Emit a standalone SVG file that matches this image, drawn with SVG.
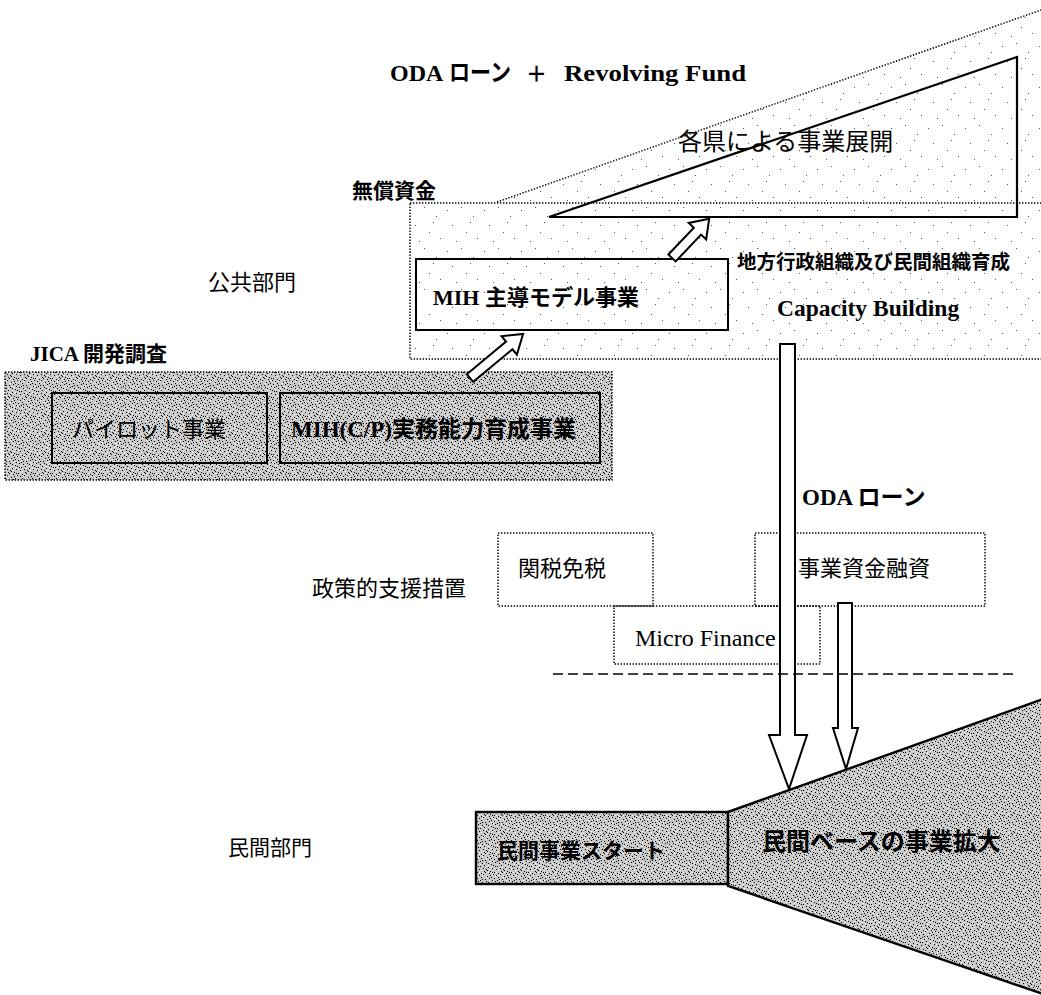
<svg xmlns="http://www.w3.org/2000/svg" width="1041" height="995" viewBox="0 0 1041 995">
<style>
  .t { font-family: 'Liberation Serif', 'Noto Sans CJK JP', serif; fill: #000; }
  .g { font-family: 'Noto Sans CJK JP', 'Liberation Sans', sans-serif; fill: #000; }
  .b { font-weight: bold; }
  .dotted { fill: none; stroke: #000; stroke-width: 1.4; stroke-dasharray: 1.4 1.6; }
  .solid { fill: none; stroke: #000; stroke-width: 2; }
  .arrow { fill: #fff; stroke: #000; stroke-width: 2; stroke-linejoin: miter; }
  .dashed { fill: none; stroke: #000; stroke-width: 1.6; stroke-dasharray: 10 5; }
</style>
<defs>
  <pattern id="light" width="37" height="41" patternUnits="userSpaceOnUse">
    <path d="M3 5h1v1h-1z M17 2h1v1h-1z M29 11h1v1h-1z M8 20h1v1h-1z M22 27h1v1h-1z M33 33h1v1h-1z M12 36h1v1h-1z M26 17h1v1h-1z" fill="#555"/>
  </pattern>
  <pattern id="dense" width="17" height="19" patternUnits="userSpaceOnUse">
    <rect width="17" height="19" fill="#c8c8c8"/>
    <path fill="#000" d="M0 0h1v1h-1z M3 1h1v1h-1z M7 0h1v1h-1z M11 2h1v1h-1z M14 1h1v1h-1z M1 4h1v1h-1z M5 3h1v1h-1z M9 5h1v1h-1z M13 4h1v1h-1z M16 6h1v1h-1z M2 7h1v1h-1z M6 8h1v1h-1z M10 7h1v1h-1z M15 9h1v1h-1z M0 10h1v1h-1z M4 11h1v1h-1z M8 10h1v1h-1z M12 12h1v1h-1z M16 13h1v1h-1z M3 14h1v1h-1z M7 13h1v1h-1z M11 15h1v1h-1z M14 16h1v1h-1z M1 17h1v1h-1z M5 18h1v1h-1z M9 17h1v1h-1z M13 18h1v1h-1z M6 5h1v1h-1z M10 14h1v1h-1z M2 11h1v1h-1z M15 3h1v1h-1z M8 16h1v1h-1z M12 8h1v1h-1z M4 6h1v1h-1z M16 17h1v1h-1z"/>
    <path fill="#fff" d="M2 2h1v1h-1z M6 1h1v1h-1z M10 3h1v1h-1z M13 6h1v1h-1z M0 6h1v1h-1z M4 9h1v1h-1z M8 8h1v1h-1z M12 10h1v1h-1z M15 12h1v1h-1z M1 13h1v1h-1z M5 15h1v1h-1z M9 12h1v1h-1z M13 14h1v1h-1z M3 17h1v1h-1z M7 18h1v1h-1z M11 17h1v1h-1z M16 0h1v1h-1z M14 8h1v1h-1z"/>
  </pattern>
</defs>

<!-- Public sector area -->
<g id="public-area">
  <polygon points="497,202 1041,10 1041,202" fill="url(#light)"/>
  <rect x="410" y="203" width="640" height="156" fill="url(#light)"/>
  <line x1="497" y1="202" x2="1041" y2="10" class="dotted"/>
  <rect x="410" y="203" width="640" height="156" class="dotted"/>
</g>

<g id="prefecture-triangle">
  <polygon points="549,217 1017,57 1017,217" fill="none" stroke="#000" stroke-width="2.2" stroke-linejoin="miter"/>
  <text class="t" x="678" y="150" font-size="24">各県による事業展開</text>
</g>

<g id="mih-model">
  <rect x="416" y="259" width="312" height="71" class="solid"/>
  <text class="t b" x="433" y="305" font-size="22">MIH 主導モデル事業</text>
</g>

<g id="jica-study">
  <rect x="5" y="372" width="607" height="108" fill="url(#dense)"/>
  <rect x="5" y="372" width="607" height="108" class="dotted"/>
  <text class="t b" x="30" y="361" font-size="21">JICA 開発調査</text>
</g>

<g id="pilot">
  <rect x="52" y="393" width="215" height="70" class="solid"/>
  <text class="g" x="72" y="437" font-size="22">パイロット事業</text>
</g>

<g id="mih-cp">
  <rect x="280" y="393" width="320" height="70" class="solid"/>
  <text class="t b" x="291" y="437" font-size="23">MIH(C/P)実務能力育成事業</text>
</g>

<g id="policy">
  <rect x="498" y="533" width="155" height="73" class="dotted"/>
  <text class="t" x="518" y="576" font-size="22">関税免税</text>
</g>

<g id="finance-loan">
  <rect x="755" y="533" width="230" height="73" class="dotted"/>
  <text class="t" x="798" y="576" font-size="22">事業資金融資</text>
</g>

<g id="micro-finance">
  <rect x="614" y="606" width="206" height="58" class="dotted"/>
  <text class="t" x="635" y="646" font-size="24">Micro Finance</text>
</g>

<g id="private-start">
  <rect x="476" y="812" width="252" height="72" fill="url(#dense)" stroke="#000" stroke-width="2.4"/>
  <text class="g b" x="497" y="858" font-size="21">民間事業スタート</text>
</g>

<g id="private-expand">
  <polygon points="728,812 1046,698 1046,995 728,886" fill="url(#dense)" stroke="#000" stroke-width="2.4" stroke-linejoin="miter"/>
  <text class="g b" x="762" y="850" font-size="24">民間ベースの事業拡大</text>
</g>

<g id="labels">
  <text class="t b" y="81" font-size="24"><tspan x="390">ODA</tspan><tspan x="449" textLength="62" lengthAdjust="spacingAndGlyphs">ローン</tspan><tspan x="526" font-size="21">＋</tspan><tspan x="564" textLength="182" lengthAdjust="spacingAndGlyphs">Revolving Fund</tspan></text>
  <text class="t b" x="352" y="198" font-size="21">無償資金</text>
  <text class="t" x="208" y="290" font-size="22">公共部門</text>
  <text class="t b" x="737" y="269" font-size="19.5">地方行政組織及び民間組織育成</text>
  <text class="t b" x="777" y="316" font-size="23.5">Capacity Building</text>
  <text class="t b" x="802" y="505" font-size="23">ODA ローン</text>
  <text class="t" x="312" y="596" font-size="22">政策的支援措置</text>
  <text class="t" x="228" y="855" font-size="21">民間部門</text>
</g>

<g id="connectors">
  <polygon class="arrow" transform="translate(470,378) rotate(-39.7)" points="0,-5 51,-5 51,-12 69,0 51,12 51,5 0,5"/>
  <polygon class="arrow" transform="translate(672,258) rotate(-46.5)" points="0,-5 37,-5 37,-12 54,0 37,12 37,5 0,5"/>
  <polygon class="arrow" points="780,344 795,344 795,735 807,735 789,789 769,735 780,735"/>
  <polygon class="arrow" points="838,603 852,603 852,728 858,728 846,769 833,728 838,728"/>
  <line class="dashed" x1="553" y1="674" x2="1015" y2="674"/>
</g>
</svg>
